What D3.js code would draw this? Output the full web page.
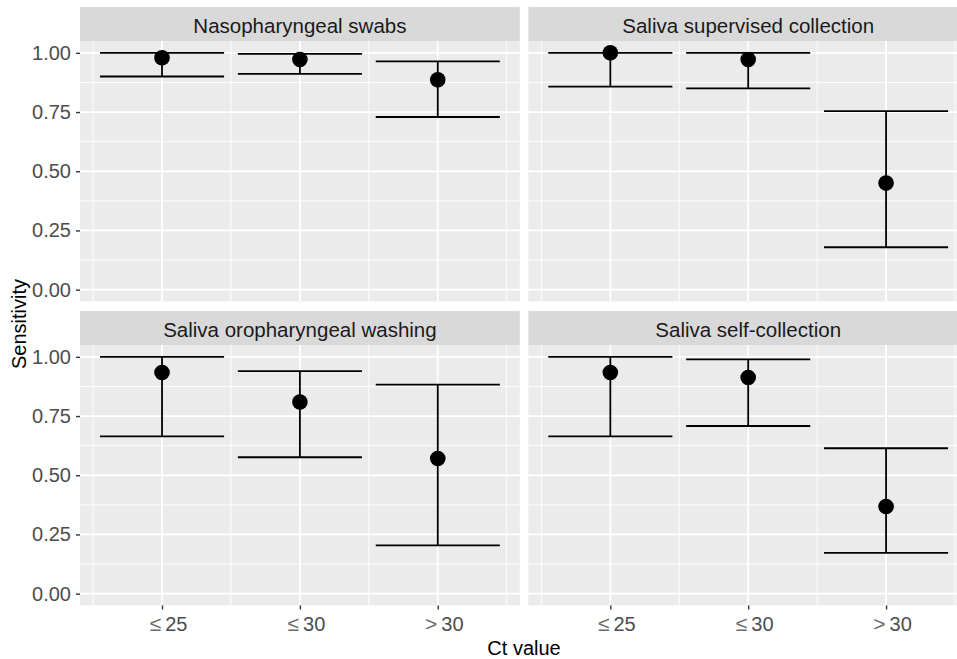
<!DOCTYPE html>
<html>
<head>
<meta charset="utf-8">
<script src="https://cdn.jsdelivr.net/npm/d3@7"></script>
<style>
  html, body { margin: 0; padding: 0; background: #ffffff; }
  svg { display: block; overflow: hidden; font-family: "Liberation Sans", Arial, sans-serif; }
</style>
</head>
<body>
<svg id="chart" width="957" height="659"></svg>
<script>
// ---- data ----
const categories = ["\u2264 25", "\u2264 30", "> 30"];
const facets = ["Nasopharyngeal swabs", "Saliva supervised collection", "Saliva oropharyngeal washing", "Saliva self-collection"];
const estimate = {
  "Nasopharyngeal swabs":         [0.979, 0.972, 0.886],
  "Saliva supervised collection": [1.000, 0.972, 0.450],
  "Saliva oropharyngeal washing": [0.934, 0.809, 0.571],
  "Saliva self-collection":       [0.934, 0.913, 0.368]
};
const lower = {
  "Nasopharyngeal swabs":         [0.900, 0.911, 0.729],
  "Saliva supervised collection": [0.857, 0.850, 0.179],
  "Saliva oropharyngeal washing": [0.664, 0.576, 0.204],
  "Saliva self-collection":       [0.664, 0.708, 0.172]
};
const upper = {
  "Nasopharyngeal swabs":         [1.000, 0.996, 0.964],
  "Saliva supervised collection": [1.000, 1.000, 0.754],
  "Saliva oropharyngeal washing": [1.000, 0.940, 0.883],
  "Saliva self-collection":       [1.000, 0.989, 0.614]
};
const yTicks = [0, 0.25, 0.5, 0.75, 1];
const yMinor = [0.125, 0.375, 0.625, 0.875];
const xMinor = [0.5, 1.5, 2.5, 3.5];
const xTitle = "Ct value";
const yTitle = "Sensitivity";

// ---- layout ----
const svg = d3.select("#chart");
const panelW = 439.8;
const colX = [80, 528.3];
const stripTop = [7, 311];
const stripH = 34;
const panelH = 260.5;
const errW = 0.9;
const fontSize = 20;

const cols = [0, 1, 0, 1];
const rows = [0, 0, 1, 1];

facets.forEach((f, i) => {
  const c = cols[i], r = rows[i];
  const x0 = colX[c];
  const sTop = stripTop[r];
  const pTop = sTop + stripH;
  const g = svg.append("g");

  const x = d3.scaleLinear().domain([0.405, 3.595]).range([x0, x0 + panelW]);
  const y = d3.scaleLinear().domain([-0.05, 1.05]).range([pTop + panelH, pTop]);

  // strip
  g.append("rect").attr("x", x0).attr("y", sTop).attr("width", panelW).attr("height", stripH).attr("fill", "#D9D9D9");
  g.append("text").attr("x", x0 + panelW / 2).attr("y", sTop + 26.4)
    .attr("text-anchor", "middle").attr("font-size", 20.5).attr("fill", "#1A1A1A").text(f);

  // panel
  g.append("rect").attr("x", x0).attr("y", pTop).attr("width", panelW).attr("height", panelH).attr("fill", "#EBEBEB");

  // minor grid
  g.selectAll(".ymin").data(yMinor).join("line")
    .attr("x1", x0).attr("x2", x0 + panelW).attr("y1", d => y(d)).attr("y2", d => y(d))
    .attr("stroke", "#ffffff").attr("stroke-width", 0.9);
  g.selectAll(".xmin").data(xMinor).join("line")
    .attr("y1", pTop).attr("y2", pTop + panelH).attr("x1", d => x(d)).attr("x2", d => x(d))
    .attr("stroke", "#ffffff").attr("stroke-width", 0.9);
  // major grid
  g.selectAll(".ymaj").data(yTicks).join("line")
    .attr("x1", x0).attr("x2", x0 + panelW).attr("y1", d => y(d)).attr("y2", d => y(d))
    .attr("stroke", "#ffffff").attr("stroke-width", 1.8);
  g.selectAll(".xmaj").data([1, 2, 3]).join("line")
    .attr("y1", pTop).attr("y2", pTop + panelH).attr("x1", d => x(d)).attr("x2", d => x(d))
    .attr("stroke", "#ffffff").attr("stroke-width", 1.8);

  const data = categories.map((cat, k) => ({
    k: k + 1, est: estimate[f][k], lo: lower[f][k], hi: upper[f][k]
  }));

  // error bars
  const eb = g.selectAll(".eb").data(data).join("g");
  eb.append("line").attr("x1", d => x(d.k)).attr("x2", d => x(d.k))
    .attr("y1", d => y(d.lo)).attr("y2", d => y(d.hi))
    .attr("stroke", "#000").attr("stroke-width", 1.8);
  eb.append("line").attr("x1", d => x(d.k - errW / 2)).attr("x2", d => x(d.k + errW / 2))
    .attr("y1", d => y(d.lo)).attr("y2", d => y(d.lo))
    .attr("stroke", "#000").attr("stroke-width", 1.8);
  eb.append("line").attr("x1", d => x(d.k - errW / 2)).attr("x2", d => x(d.k + errW / 2))
    .attr("y1", d => y(d.hi)).attr("y2", d => y(d.hi))
    .attr("stroke", "#000").attr("stroke-width", 1.8);
  // points
  g.selectAll(".pt").data(data).join("circle")
    .attr("cx", d => x(d.k)).attr("cy", d => y(d.est)).attr("r", 7.8).attr("fill", "#000");

  // y axis on left column
  if (c === 0) {
    const ya = g.append("g").attr("transform", `translate(${x0},0)`)
      .call(d3.axisLeft(y).tickValues(yTicks).tickFormat(d3.format(".2f")).tickSize(4).tickPadding(5));
    ya.select(".domain").remove();
    ya.selectAll(".tick line").attr("stroke", "#333333").attr("stroke-width", 1.4);
    ya.selectAll(".tick text").attr("fill", "#4D4D4D").attr("font-size", fontSize)
      .attr("font-family", "Liberation Sans, Arial, sans-serif");
  }
  // x axis on bottom row
  if (r === 1) {
    const xa = g.append("g").attr("transform", `translate(0,${pTop + panelH})`)
      .call(d3.axisBottom(x).tickValues([1, 2, 3]).tickFormat(d => categories[d - 1]).tickSize(4).tickPadding(7.5));
    xa.select(".domain").remove();
    xa.selectAll(".tick line").attr("stroke", "#333333").attr("stroke-width", 1.4);
    xa.selectAll(".tick text").each(function(d) {
      const t = d3.select(this);
      const parts = categories[d - 1].split(" ");
      t.text(null).attr("fill", "#4D4D4D").attr("font-size", fontSize)
        .attr("font-family", "Liberation Sans, Arial, sans-serif").attr("x", 6);
      t.append("tspan").text(parts[0]).attr("font-size", fontSize * 1.05).attr("fill", "#6a6a6a");
      t.append("tspan").attr("dx", 4).text(parts[1]);
    });
  }
});

// axis titles
svg.append("text").attr("x", (colX[0] + colX[1] + panelW) / 2).attr("y", 654.5)
  .attr("text-anchor", "middle").attr("font-size", fontSize).attr("fill", "#000").text(xTitle);
svg.append("text").attr("transform", "translate(25.5,324) rotate(-90)")
  .attr("text-anchor", "middle").attr("font-size", fontSize).attr("fill", "#000").text(yTitle);
</script>
</body>
</html>
